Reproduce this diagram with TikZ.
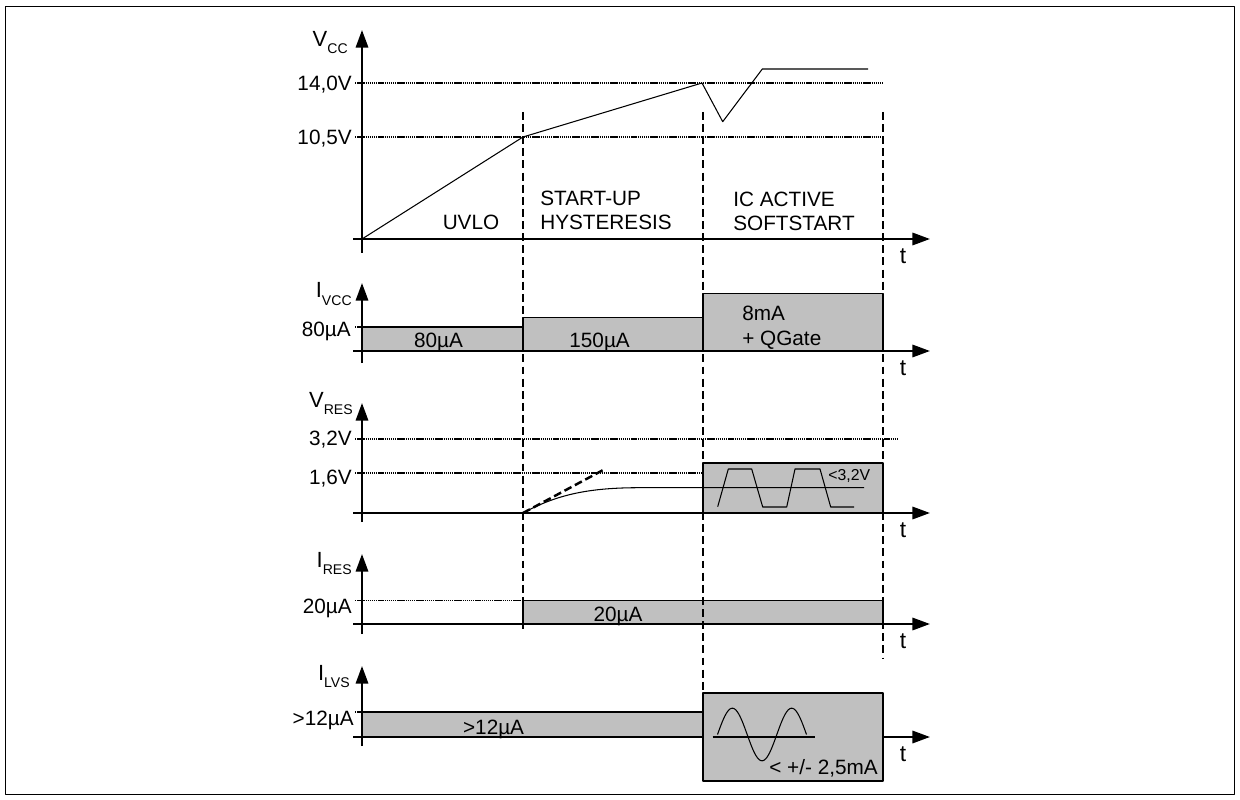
\documentclass[tikz,border=0pt]{standalone}
\usepackage{fontspec}
\setmainfont{Liberation Sans}
\usetikzlibrary{arrows.meta}
\definecolor{boxgray}{RGB}{192,192,192}
\newcommand{\sublbl}[2]{#1\raisebox{-4pt}{\fontsize{8}{9}\selectfont #2}}
\tikzset{
  axis/.style={line width=1.3pt,-{Triangle[length=10pt,width=7pt]}},
  level/.style={line width=0.9pt,dash pattern=on 0.8pt off 0.4pt},
  phase/.style={line width=1.4pt,dash pattern=on 4.5pt off 2.4pt},
  sig/.style={line width=0.6pt},
  curbox/.style={fill=boxgray,draw=black,line width=0.6pt},
  txt/.style={font=\fontsize{11.8}{13}\selectfont,inner sep=0pt,text height=8.4pt,text depth=0pt},
  small/.style={txt,font=\fontsize{9}{10}\selectfont,text height=6.4pt},
  ylbl/.style={font=\fontsize{12.5}{14}\selectfont,inner sep=0pt,anchor=base east},
}
\begin{document}
\begin{tikzpicture}[x=0.02cm,y=-0.02cm,line join=round]
\useasboundingbox (0,0) rectangle (1240,800);
\draw[line width=0.8pt] (5.5,6.5) rectangle (1234.5,794.5);

% axis origins
\coordinate (vcc0) at (362,239);
\coordinate (ivcc0) at (362,351);
\coordinate (vres0) at (362,513);
\coordinate (ires0) at (362,624);
\coordinate (ilvs0) at (362,737);

% levels
\draw[level] (355,83)--(883,83);
\draw[level] (355,137)--(883,137);
\draw[level] (355,327)--(444,327);
\draw[level] (355,439)--(897,439);
\draw[level] (355,473)--(703,473);
\draw[level] (355,600.7)--(523,600.7);
\draw[level] (355,712)--(396,712);

% current boxes
\filldraw[curbox] (362,327) rectangle (523,351);
\filldraw[curbox] (523,317.7) rectangle (703,351);
\filldraw[curbox] (703,293.3) rectangle (883,351);
\filldraw[curbox] (703,463) rectangle (883,513);
\filldraw[curbox] (523,600.7) rectangle (883,624);
\filldraw[curbox] (362,712) rectangle (703,737);

% phase borders
\draw[phase] (523,112)--(523,630);
\draw[phase] (703,112)--(703,693);
\draw[phase] (883,112)--(883,658);

% axes
\foreach \o/\top/\bot in {vcc0/30/253,ivcc0/283/363,vres0/403/522,ires0/554/634,ilvs0/666/746}{
  \draw[axis] (362,\bot)--(362,\top);
  \draw[axis] ([xshift=-9*0.02cm]\o)--([xshift=568*0.02cm]\o);
}
\foreach \y in {239,351,513,624,737}
  \node[txt,font=\fontsize{13}{14}\selectfont,text height=7.2pt] (t\y) at (903,\y+18) {t};

\filldraw[curbox] (703,693) rectangle (883,781);

% signals
\draw[sig] (vcc0)--(523,137)--(702,83)--(722.7,121.7)--(762.3,69)--(868,69);
\draw[phase,dash pattern=on 4.5pt off 2.2pt] (523,513)--(605,469);
\draw[sig] (523,513) .. controls (558,494) and (590,487.7) .. (640,487.7)--(864,487.7);
\draw[sig] (717.7,506.7)--(728.3,469)--(751.7,469)--(762.7,507)--(786.7,507)--(795,469)
  --(820,469)--(830.7,507)--(854,507);
\draw[sig] (712.7,737)--(815,737);
\draw[sig] plot[domain=0:540,samples=73] ({717.5+\x/540*89},{734.5-26.3*sin(\x)});

% axis names
\node[ylbl] (nvcc) at (348,46.7) {\sublbl{V}{CC}};
\node[ylbl] (nivcc) at (352,298) {\sublbl{I}{VCC}};
\node[ylbl] (nvres) at (353,407) {\sublbl{V}{RES}};
\node[ylbl] (nires) at (352,567) {\sublbl{I}{RES}};
\node[ylbl] (nilvs) at (350,680) {\sublbl{I}{LVS}};

% level values
\node[txt,anchor=east] (l140) at (352,83) {14,0V};
\node[txt,anchor=east] (l105) at (352,137) {10,5V};
\node[txt,anchor=east] (l80) at (351,329) {80µA};
\node[txt,anchor=east] (l32) at (352,438.3) {3,2V};
\node[txt,anchor=east] (l16) at (352,477) {1,6V};
\node[txt,anchor=east] (l20) at (352,606) {20µA};
\node[txt,anchor=east] (l12) at (354,718) {>12µA};

% phase names
\node[txt] (uvlo) at (471,221.7) {UVLO};
\node[txt,anchor=west] (start) at (540,198.3) {START-UP};
\node[txt,anchor=west] (hyst) at (540,221.7) {HYSTERESIS};
\node[txt,anchor=west] (icact) at (733,199) {IC ACTIVE};
\node[txt,anchor=west] (soft) at (733,222.7) {SOFTSTART};

% box values
\node[txt] (b80) at (438.6,340) {80µA};
\node[txt] (b150) at (599.6,340) {150µA};
\node[txt,anchor=west] (b8m) at (742,313.3) {8mA};
\node[txt,anchor=west] (bqg) at (742,338.3) {+ QGate};
\node[small,anchor=west] (b32) at (828,475) {<3,2V};
\node[txt] (b20) at (618,614) {20µA};
\node[txt] (b12) at (493.6,726.7) {>12µA};
\node[txt,anchor=west] (b25) at (769,767.3) {< +/- 2,5mA};
\end{tikzpicture}
\end{document}
